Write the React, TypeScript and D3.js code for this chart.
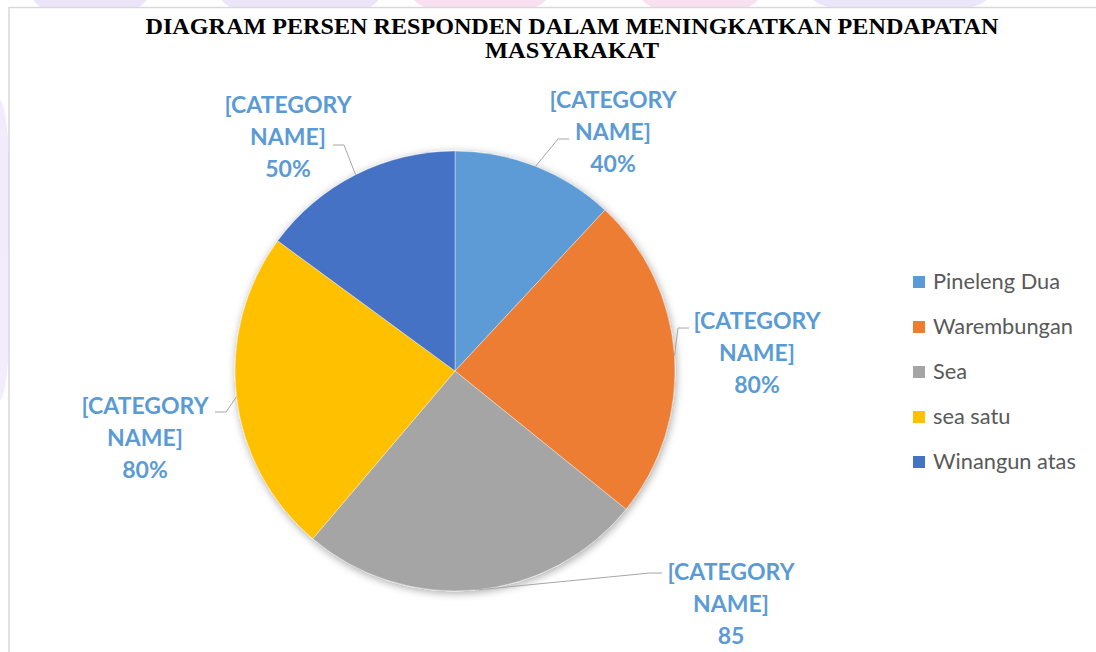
import { useEffect, useRef } from 'react';
import * as d3 from 'd3';

// Data
const categories = ['Pineleng Dua', 'Warembungan', 'Sea', 'sea satu', 'Winangun atas'];
const values = [40, 80, 85, 80, 50];
const valueLabels = ['40%', '80%', '85', '80%', '50%'];
const colors = ['#5B9BD5', '#ED7D31', '#A5A5A5', '#FFC000', '#4472C4'];
const titleLines = ['DIAGRAM PERSEN RESPONDEN DALAM MENINGKATKAN PENDAPATAN', 'MASYARAKAT'];

// Manual label placement (Excel-style dragged labels): label centre + leader elbow
const labelLayout = [
    { cx: 613, cy: 100, ex: 558, ey: 139, hx: 569 },
    { cx: 757, cy: 321, ex: 678, ey: 328, hx: 689 },
    { cx: 731, cy: 572, ex: 650, ey: 573, hx: 662 },
    { cx: 145, cy: 406, ex: 226, ey: 412, hx: 215 },
    { cx: 288, cy: 105, ex: 344, ey: 145, hx: 333 }
];
const titleWidths = [853, 174];

const App = () => {
    const svgRef = useRef<SVGSVGElement | null>(null);

    useEffect(() => {
        if (!svgRef.current) return;
        const svg = d3.select(svgRef.current);
        svg.selectAll('*').remove();

        const W = 1096, H = 652;
        const cx = 455, cy = 371, r = 220;

        // faint watermark outside the chart frame
        const wm = svg.append('g').attr('opacity', 0.35);
        [
            { x: 90, y: -10, rx: 60, ry: 30, c: '#c9b6f2' },
            { x: 300, y: -5, rx: 80, ry: 25, c: '#c9b6f2' },
            { x: 480, y: -8, rx: 70, ry: 25, c: '#f0a8d8' },
            { x: 700, y: -6, rx: 60, ry: 22, c: '#f0a8d8' },
            { x: 900, y: -6, rx: 90, ry: 22, c: '#c9b6f2' },
            { x: 0, y: 250, rx: 12, ry: 150, c: '#d9c8f5' }
        ].forEach(s => wm.append('ellipse')
            .attr('cx', s.x).attr('cy', s.y).attr('rx', s.rx).attr('ry', s.ry).attr('fill', s.c));

        // chart frame
        svg.append('rect')
            .attr('x', 9).attr('y', 7.5)
            .attr('width', W + 10).attr('height', H + 10)
            .attr('fill', '#ffffff')
            .attr('stroke', '#d9d9d9')
            .attr('stroke-width', 1.5);

        // title
        svg.append('g').selectAll('text')
            .data(titleLines)
            .enter()
            .append('text')
            .attr('x', 572)
            .attr('y', (d, i) => 34 + i * 24)
            .attr('text-anchor', 'middle')
            .attr('font-family', '"Liberation Serif", "Times New Roman", serif')
            .attr('font-weight', '700')
            .attr('font-size', '23px')
            .attr('textLength', (d, i) => titleWidths[i])
            .attr('lengthAdjust', 'spacingAndGlyphs')
            .attr('fill', '#000')
            .text(d => d);

        // shadow
        const defs = svg.append('defs');
        const f = defs.append('filter').attr('id', 'pieShadow')
            .attr('x', '-20%').attr('y', '-20%').attr('width', '140%').attr('height', '140%');
        f.append('feGaussianBlur').attr('in', 'SourceAlpha').attr('stdDeviation', 4);
        f.append('feOffset').attr('dx', 1).attr('dy', 2).attr('result', 'b');
        f.append('feComponentTransfer').append('feFuncA').attr('type', 'linear').attr('slope', 0.35);
        const m = f.append('feMerge');
        m.append('feMergeNode');
        m.append('feMergeNode').attr('in', 'SourceGraphic');

        const pie = d3.pie<number>().sort(null).value(d => d);
        const arcs = pie(values);
        const arc = d3.arc<d3.PieArcDatum<number>>().innerRadius(0).outerRadius(r);

        const g = svg.append('g').attr('transform', `translate(${cx},${cy})`);
        g.append('g').attr('filter', 'url(#pieShadow)')
            .selectAll('path')
            .data(arcs)
            .enter()
            .append('path')
            .attr('d', arc)
            .attr('fill', (d, i) => colors[i])
            .attr('stroke', '#ffffff')
            .attr('stroke-width', 0.4);

        // leader lines
        svg.append('g').selectAll('polyline')
            .data(arcs)
            .enter()
            .append('polyline')
            .attr('points', (d, i) => {
                const a = (d.startAngle + d.endAngle) / 2;
                const px = cx + r * Math.sin(a);
                const py = cy - r * Math.cos(a);
                const L = labelLayout[i];
                return `${px},${py} ${L.ex},${L.ey} ${L.hx},${L.ey}`;
            })
            .attr('fill', 'none')
            .attr('stroke', '#a6a6a6')
            .attr('stroke-width', 1);

        // data labels
        const lbl = svg.append('g').selectAll('text')
            .data(arcs)
            .enter()
            .append('text')
            .attr('text-anchor', 'middle')
            .attr('font-family', 'Lato, "Open Sans", sans-serif')
            .attr('font-weight', '700')
            .attr('font-size', '23px')
            .attr('fill', '#5B9BD5');
        ['[CATEGORY', 'NAME]', ''].forEach((line, k) => {
            lbl.append('tspan')
                .attr('x', (d, i) => labelLayout[i].cx)
                .attr('y', (d, i) => labelLayout[i].cy + k * 32 + 8)
                .text((d, i) => (k === 2 ? valueLabels[i] : line));
        });

        // legend
        const leg = svg.append('g').selectAll('g')
            .data(categories)
            .enter()
            .append('g')
            .attr('transform', (d, i) => `translate(913,${282 + i * 45})`);
        leg.append('rect')
            .attr('x', 0).attr('y', -6)
            .attr('width', 12).attr('height', 12)
            .attr('fill', (d, i) => colors[i]);
        leg.append('text')
            .attr('x', 20).attr('y', 7)
            .attr('font-family', 'Lato, "Open Sans", sans-serif')
            .attr('font-size', '21.8px')
            .attr('fill', '#595959')
            .text(d => d);
    }, []);

    return (
        <svg
            ref={svgRef}
            width={1096}
            height={652}
            style={{ position: 'absolute', left: 0, top: 0, background: '#fff' }}
        />
    );
};

export default App;
